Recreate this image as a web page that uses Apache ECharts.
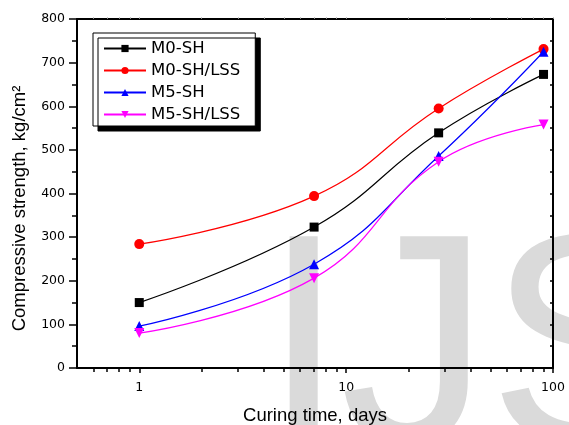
<!DOCTYPE html>
<html>
<head>
<meta charset="utf-8">
<script src="https://cdn.jsdelivr.net/npm/echarts@6/dist/echarts.min.js"></script>
<style>html,body{margin:0;padding:0;background:#fff;}#c{width:569px;height:425px;}</style>
</head>
<body>
<div id="c"></div>
<script>
var days = [1, 7, 28, 90];
var m0sh = [150, 323, 539, 673];
var m0shlss = [284, 394, 595, 731];
var m5sh = [96, 238, 486, 725];
var m5shlss = [80, 206, 473, 558];
var xMajorTicks = [1, 10, 100];
var xMinorTicks = [0.6, 0.7, 0.8, 0.9, 2, 3, 4, 5, 6, 7, 8, 9, 20, 30, 40, 50, 60, 70, 80, 90];
var FONT = 'Liberation Sans';
var WIDE = 'DejaVu Sans';

function pairs(ys) { return days.map(function (d, i) { return [d, ys[i]]; }); }

var chart = echarts.init(document.getElementById('c'));
function mk(name, data, color, symbol, size, rot) {
  return {
    name: name, type: 'line', data: pairs(data), smooth: 0.45,
    symbol: symbol, symbolSize: size, symbolRotate: rot || 0,
    itemStyle: { color: color }, lineStyle: { color: color, width: 1.2 },
    xAxisIndex: 0, yAxisIndex: 0
  };
}
function wm(ch, x) {
  return {
    type: 'text', z: -10, x: x, y: 210, silent: true,
    style: { text: ch, fontSize: 300, fontFamily: FONT, fill: '#dadada', align: 'left', verticalAlign: 'top' }
  };
}
chart.setOption({
  animation: false,
  textStyle: { fontFamily: FONT, color: '#000' },
  graphic: [wm('I', 262), wm('J', 340), wm('S', 488)],
  grid: { left: 77, right: 16, top: 19, bottom: 57, containLabel: false, outerBoundsMode: 'none' },
  legend: {
    orient: 'vertical', left: 93, top: 33,
    padding: [7, 15, 3, 10], itemGap: 5, itemWidth: 42, itemHeight: 9,
    backgroundColor: '#fff', borderColor: '#000', borderWidth: 1, borderRadius: 0,
    shadowColor: '#000', shadowBlur: 0, shadowOffsetX: 5, shadowOffsetY: 5,
    textStyle: { fontSize: 16.5, fontFamily: WIDE, color: '#000', lineHeight: 17 },
    data: ['M0-SH', 'M0-SH/LSS', 'M5-SH', 'M5-SH/LSS']
  },
  xAxis: [{
    type: 'log', logBase: 10, min: 0.5, max: 100, position: 'bottom',
    name: 'Curing time, days', nameLocation: 'middle', nameGap: 38,
    nameTextStyle: { fontSize: 18.5, fontFamily: FONT, color: '#000' },
    axisLine: { show: true, lineStyle: { color: '#000', width: 2 } },
    axisTick: { show: true, inside: false, length: 5, customValues: xMajorTicks, lineStyle: { color: '#000', width: 1.5 } },
    axisLabel: { show: true, customValues: xMajorTicks, fontSize: 12.5, margin: 13, color: '#000', fontFamily: WIDE },
    splitLine: { show: false }
  }, {
    type: 'log', logBase: 10, min: 0.5, max: 100, position: 'bottom', gridIndex: 0,
    axisLine: { show: false },
    axisTick: { show: true, inside: false, length: 4, customValues: xMinorTicks, lineStyle: { color: '#000', width: 1.5 } },
    axisLabel: { show: false }, splitLine: { show: false }
  }, {
    type: 'log', logBase: 10, min: 0.5, max: 100, position: 'top', gridIndex: 0,
    axisLine: { show: true, lineStyle: { color: '#000', width: 2 } },
    axisTick: { show: true, inside: false, length: 1.5, customValues: xMinorTicks.concat(xMajorTicks), lineStyle: { color: '#888', width: 1 } },
    axisLabel: { show: false }, splitLine: { show: false }
  }],
  yAxis: [{
    type: 'value', min: 0, max: 800, interval: 100, position: 'left',
    name: 'Compressive strength, kg/cm\u00B2', nameLocation: 'middle', nameGap: 48, nameRotate: 90,
    nameTextStyle: { fontSize: 18.5, fontFamily: FONT, color: '#000', padding: [0, 30, 0, 0] },
    axisLine: { show: true, lineStyle: { color: '#000', width: 2 } },
    axisTick: { show: true, inside: false, length: 8, lineStyle: { color: '#000', width: 1.5 } },
    minorTick: { show: true, splitNumber: 2, length: 5, lineStyle: { color: '#000', width: 1.5 } },
    axisLabel: { fontSize: 12.5, margin: 12, color: '#000', fontFamily: WIDE },
    splitLine: { show: false }, minorSplitLine: { show: false }
  }, {
    type: 'value', min: 0, max: 800, interval: 100, position: 'right',
    axisLine: { show: true, lineStyle: { color: '#000', width: 2 } },
    axisTick: { show: true, inside: true, length: 3, lineStyle: { color: '#000', width: 1.5 } },
    minorTick: { show: true, splitNumber: 2, length: 3, lineStyle: { color: '#000', width: 1.5 } },
    axisLabel: { show: false }, splitLine: { show: false }
  }],
  series: [
    mk('M0-SH', m0sh, '#000000', 'rect', 9),
    mk('M0-SH/LSS', m0shlss, '#ff0000', 'circle', 10),
    mk('M5-SH', m5sh, '#0000ff', 'triangle', 10),
    mk('M5-SH/LSS', m5shlss, '#ff00ff', 'triangle', 10, 180)
  ]
});
</script>
</body>
</html>
